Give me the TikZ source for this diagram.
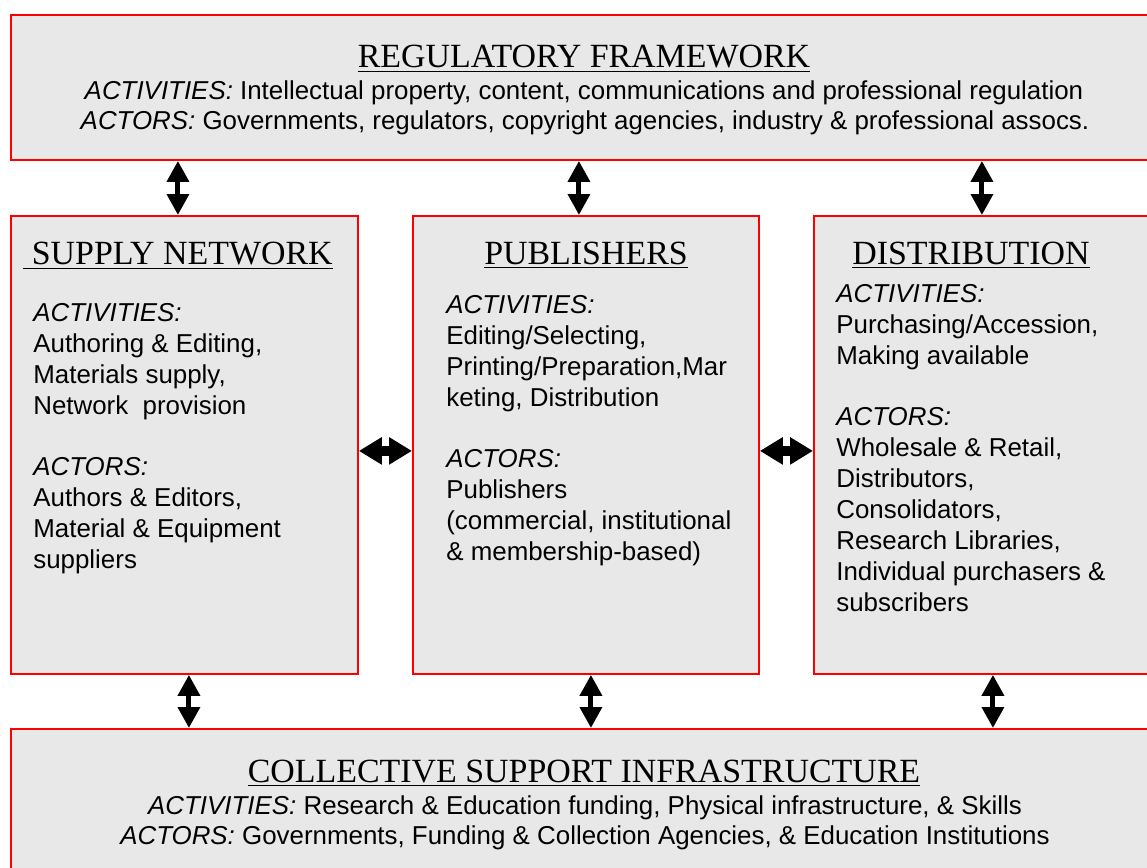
\documentclass[tikz,border=0pt]{standalone}
\usepackage{fontspec}
\setmainfont{Liberation Serif}
\newfontfamily\arialfont{Liberation Sans}
\usetikzlibrary{positioning, arrows.meta}
\definecolor{boxgray}{RGB}{232,232,232}
\definecolor{boxred}{RGB}{255,0,0}
\tikzset{
  secbox/.style = {rectangle, draw=boxred, fill=boxgray, line width=1.1pt,
                   anchor=north west, inner sep=0pt},
  sectitle/.style = {font=\fontsize{19.3pt}{23pt}\selectfont, anchor=base, inner sep=0pt},
  secline/.style = {font=\arialfont\fontsize{14.74pt}{17.57pt}\selectfont, anchor=base, inner sep=0pt},
  sectext/.style = {font=\arialfont\fontsize{14.74pt}{17.57pt}\selectfont, align=left,
                    anchor=north west, inner sep=0pt},
  linkarrow/.style = {{Triangle[length=0.42cm,width=0.43cm]}-{Triangle[length=0.42cm,width=0.43cm]},
                      line width=0.1cm},
  sidearrow/.style = {{Triangle[length=0.46cm,width=0.52cm]}-{Triangle[length=0.46cm,width=0.52cm]},
                      line width=0.2cm}
}

\begin{document}
\begin{tikzpicture}[x=0.02cm, y=-0.02cm]
\path[use as bounding box, clip] (0,0) rectangle (1147,868);

% boxes
\node[secbox, minimum width=22.94cm, minimum height=2.9cm] (reg) at (10,14) {};
\node[secbox, minimum width=6.94cm, minimum height=9.16cm] (supply) at (10,215) {};
\node[secbox, minimum width=6.92cm, minimum height=9.16cm] (pub) at (412,215) {};
\node[secbox, minimum width=6.88cm, minimum height=9.16cm] (dist) at (813,215) {};
\node[secbox, minimum width=22.94cm, minimum height=2.9cm] (infra) at (10,728) {};

% regulatory framework
\node[sectitle] (regtitle) at (584,68) {\underline{REGULATORY FRAMEWORK}};
\node[secline] (regact) at (584,100) {\textit{ACTIVITIES:} Intellectual property, content, communications and professional regulation};
\node[secline] (regactors) at (585,130) {\textit{ACTORS:} Governments, regulators, copyright agencies, industry \& professional assocs.};

% supply network
\node[sectitle, anchor=base west] (supplytitle) at (23,265) {\underline{\ SUPPLY NETWORK}};
\node[sectext] (supplytext) at (33,303) {\textit{ACTIVITIES:}\\Authoring \& Editing,\\Materials supply,\\Network\ \ provision\\[17.57pt]
  \textit{ACTORS:}\\Authors \& Editors,\\Material \& Equipment\\suppliers};

% publishers
\node[sectitle] (pubtitle) at (586,265) {\underline{PUBLISHERS}};
\node[sectext] (pubtext) at (446,295) {\textit{ACTIVITIES:}\\Editing/Selecting,\\Printing/Preparation,Mar\\keting, Distribution\\[17.57pt]
  \textit{ACTORS:}\\Publishers\\(commercial, institutional\\\& membership-based)};

% distribution
\node[sectitle] (disttitle) at (971,265) {\underline{DISTRIBUTION}};
\node[sectext] (disttext) at (836,284) {\textit{ACTIVITIES:}\\Purchasing/Accession,\\Making available\\[17.57pt]
  \textit{ACTORS:}\\Wholesale \& Retail,\\Distributors,\\Consolidators,\\Research Libraries,\\Individual purchasers \&\\subscribers};

% collective support infrastructure
\node[sectitle] (infratitle) at (584,782) {\underline{COLLECTIVE SUPPORT INFRASTRUCTURE}};
\node[secline] (infraact) at (585,814) {\textit{ACTIVITIES:} Research \& Education funding, Physical infrastructure, \& Skills};
\node[secline] (infraactors) at (585,844) {\textit{ACTORS:} Governments, Funding \& Collection Agencies, \& Education Institutions};

% arrow ends
\coordinate (s1) at ([xshift=-0.13cm]supply.north);
\coordinate (p1) at ([xshift=-0.14cm]pub.north);
\coordinate (d1) at ([xshift=-0.08cm]dist.north);
\coordinate (s2) at ([xshift=0.09cm]supply.south);
\coordinate (p2) at ([xshift=0.1cm]pub.south);
\coordinate (d2) at ([xshift=0.14cm]dist.south);

\draw[linkarrow] (s1) -- (s1 |- reg.south);
\draw[linkarrow] (p1) -- (p1 |- reg.south);
\draw[linkarrow] (d1) -- (d1 |- reg.south);
\draw[sidearrow] ([yshift=-0.12cm]supply.east) -- ([yshift=-0.12cm]pub.west);
\draw[sidearrow] ([yshift=-0.12cm]pub.east) -- ([yshift=-0.12cm]dist.west);
\draw[linkarrow] (s2) -- (s2 |- infra.north);
\draw[linkarrow] (p2) -- (p2 |- infra.north);
\draw[linkarrow] (d2) -- (d2 |- infra.north);
\end{tikzpicture}
\end{document}
